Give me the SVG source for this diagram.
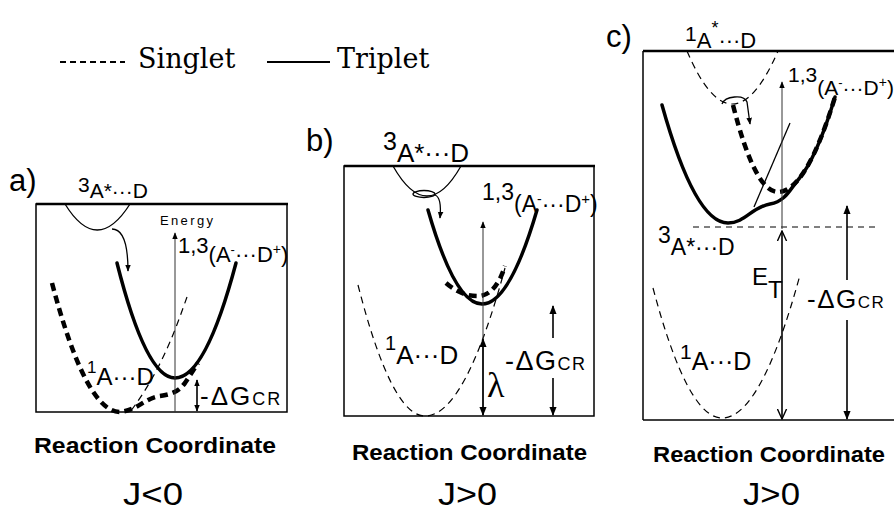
<svg xmlns="http://www.w3.org/2000/svg" width="894" height="513" viewBox="0 0 894 513">
<defs>
<marker id="ah" viewBox="0 0 10 10" refX="9" refY="5" markerWidth="9" markerHeight="9" markerUnits="userSpaceOnUse" orient="auto-start-reverse">
<path d="M0,1 L10,5 L0,9 z" fill="#000"/>
</marker>
<marker id="ahs" viewBox="0 0 10 10" refX="9" refY="5" markerWidth="7" markerHeight="7" markerUnits="userSpaceOnUse" orient="auto-start-reverse">
<path d="M0,1 L10,5 L0,9 z" fill="#000"/>
</marker>
<marker id="av" viewBox="0 0 12 12" refX="11" refY="6" markerWidth="11" markerHeight="11" markerUnits="userSpaceOnUse" orient="auto-start-reverse">
<path d="M0,1 L11,6 L0,11" fill="none" stroke="#000" stroke-width="1.5"/>
</marker>
</defs>
<style>
.box{fill:none;stroke:#000;stroke-width:1.5}
.top{fill:none;stroke:#000;stroke-width:2.5}
.tri{fill:none;stroke:#000;stroke-width:3.5;stroke-linecap:round;stroke-linejoin:round}
.sgl{fill:none;stroke:#000;stroke-width:4.5;stroke-dasharray:8 5}
.thin{fill:none;stroke:#000;stroke-width:1.3}
.thd{fill:none;stroke:#000;stroke-width:1.2;stroke-dasharray:7 5}
.arr{fill:none;stroke:#000;stroke-width:1.6}
.ax{fill:none;stroke:#333;stroke-width:1}
.t{font-family:"Liberation Sans",Arial,sans-serif;fill:#000}
.rc{font-family:"Liberation Sans",Arial,sans-serif;font-weight:bold;font-size:22px;fill:#000}
.j{font-family:"Liberation Sans",Arial,sans-serif;font-size:31px;fill:#000}
.pl{font-family:"Liberation Sans",Arial,sans-serif;font-size:31px;fill:#000}
.leg{font-family:"DejaVu Serif","Liberation Serif",serif;font-size:27px;fill:#000}
</style>

<g id="legend">
<line x1="60" y1="62" x2="125" y2="62" stroke="#000" stroke-width="2" stroke-dasharray="6 4"/>
<text class="leg" x="138" y="68">Singlet</text>
<line x1="267" y1="62" x2="330" y2="62" stroke="#000" stroke-width="2"/>
<text class="leg" x="337" y="68">Triplet</text>
</g>

<g id="panel-a">
<text class="pl" x="9" y="191">a)</text>
<rect class="box" x="36" y="204" width="251" height="208"/>
<line class="top" x1="36" y1="204" x2="288" y2="204"/>
<g id="a-curves">
<path class="thin" d="M65,204 Q97,256 130,204"/>
<path class="tri" d="M117,263 Q146,378 175,378 Q205.5,378 236,263"/>
<path class="sgl" d="M52,283 Q86,412 120,412 C138,410 145,398 160,396 C172,394 178,392 185,383 L198,363"/>
<path class="thd" d="M187,297 C177,325 162,370 130,412"/>
</g>
<g id="a-connectors">
<path class="thin" d="M112,229 C124,229 128,245 128,271" marker-end="url(#ahs)"/>
<line class="ax" x1="175" y1="412" x2="175" y2="233" marker-end="url(#ahs)"/>
<line class="arr" x1="197" y1="380" x2="197" y2="411" marker-start="url(#ahs)" marker-end="url(#ahs)"/>
</g>
<text class="t" x="78" y="192" font-size="21">3<tspan dy="6" font-size="21">A*···D</tspan></text>
<text class="t" x="160" y="225" font-size="13" textLength="53">Energy</text>
<text class="t" x="178" y="253" font-size="22">1,3<tspan dy="9">(A</tspan><tspan dy="-8" font-size="13">-</tspan><tspan dy="8">···D</tspan><tspan dy="-8" font-size="14">+</tspan><tspan dy="8">)</tspan></text>
<text class="t" x="87" y="373" font-size="17">1<tspan dy="12" font-size="24">A···D</tspan></text>
<text class="t" x="200" y="405" font-size="26" letter-spacing="2">-ΔG<tspan font-size="18">CR</tspan></text>
<text class="rc" x="34" y="453" textLength="242" lengthAdjust="spacingAndGlyphs">Reaction Coordinate</text>
<text class="j" x="123" y="505" textLength="60" lengthAdjust="spacingAndGlyphs">J&lt;0</text>
</g>

<g id="panel-b">
<text class="pl" x="306" y="151">b)</text>
<rect class="box" x="344" y="166" width="250" height="250"/>
<line class="top" x1="344" y1="166" x2="595" y2="166"/>
<g id="b-curves">
<path class="thin" d="M393,166 Q427,226 461,166"/>
<ellipse class="thin" cx="424" cy="194" rx="11" ry="3.5"/>
<path class="tri" d="M428,210 Q455,304 482,304 Q509.5,304 537,210"/>
<path class="sgl" stroke-width="3.5" d="M446,283 Q462,297 480,296 Q496,294 505,266"/>
<path class="thd" d="M358,285 Q391.5,416 425,416 Q465,416 505,268"/>
</g>
<g id="b-connectors">
<path class="thin" d="M435,195 C441,197 441,207 440,218" marker-end="url(#ahs)"/>
<line class="ax" x1="483" y1="416" x2="483" y2="222" marker-end="url(#ahs)"/>
<line class="arr" x1="483" y1="339" x2="483" y2="415" marker-start="url(#ah)" marker-end="url(#ah)"/>
<line class="arr" x1="553" y1="338" x2="553" y2="306" marker-end="url(#ah)"/>
<line class="arr" x1="553" y1="378" x2="553" y2="415" marker-end="url(#ah)"/>
</g>
<text class="t" x="383" y="150" font-size="25">3<tspan dy="12" font-size="26">A*···D</tspan></text>
<text class="t" x="482" y="200" font-size="23">1,3<tspan dy="12">(A</tspan><tspan dy="-8" font-size="14">-</tspan><tspan dy="8">···D</tspan><tspan dy="-8" font-size="15">+</tspan><tspan dy="8">)</tspan></text>
<text class="t" x="385" y="350" font-size="20">1<tspan dy="14" font-size="26">A···D</tspan></text>
<text x="487" y="397" font-family="Liberation Serif,serif" font-size="36">λ</text>
<text class="t" x="505" y="370" font-size="27" letter-spacing="1.5">-ΔG<tspan font-size="18">CR</tspan></text>
<text class="rc" x="352" y="460" textLength="235" lengthAdjust="spacingAndGlyphs">Reaction Coordinate</text>
<text class="j" x="438" y="505" textLength="59" lengthAdjust="spacingAndGlyphs">J&gt;0</text>
</g>

<g id="panel-c">
<text class="pl" x="606" y="47">c)</text>
<line class="top" x1="643" y1="51" x2="894" y2="51"/>
<line class="box" x1="643" y1="51" x2="643" y2="420"/>
<line class="box" x1="643" y1="420" x2="894" y2="420"/>
<g id="c-curves">
<path class="thd" d="M687,51 Q732,157 778,51"/>
<path class="sgl" d="M733,105 Q755,192 778,192 Q806,192 835,97"/>
<path class="tri" d="M662,105 Q695,223 728,223 C745,223 752,207 770,204 C786,201 790,189 798,180 Q816.5,158.7 835,97"/>
<path class="thin" d="M754,207 L790,123"/>
<path class="thd" d="M653,288 Q687.5,418 722,418 Q761,418 800,275"/>
<line x1="693" y1="227" x2="877" y2="227" stroke="#000" stroke-width="1" stroke-dasharray="6 5"/>
</g>
<g id="c-connectors">
<path class="thin" d="M722,104 C725,96 744,94 747,102 L750,124" marker-end="url(#ahs)"/>
<line class="ax" x1="782" y1="229" x2="782" y2="82" marker-end="url(#ahs)"/>
<line class="arr" x1="782" y1="231" x2="782" y2="419" marker-start="url(#av)" marker-end="url(#av)"/>
<line class="arr" x1="847" y1="280" x2="847" y2="206" marker-end="url(#ah)"/>
<line class="arr" x1="847" y1="320" x2="847" y2="419" marker-end="url(#ah)"/>
</g>
<text class="t" x="685" y="41" font-size="21">1<tspan dy="7" font-size="22">A</tspan><tspan dy="-14" font-size="18">*</tspan><tspan dy="14" font-size="22">···D</tspan></text>
<text class="t" x="788" y="82" font-size="21">1,3<tspan dy="13">(A</tspan><tspan dy="-8" font-size="13">-</tspan><tspan dy="8">···D</tspan><tspan dy="-8" font-size="14">+</tspan><tspan dy="8">)</tspan></text>
<text class="t" x="658" y="243" font-size="23">3<tspan dy="12" font-size="23">A*···D</tspan></text>
<text class="t" x="752" y="285" font-size="24">E<tspan dy="13">T</tspan></text>
<text class="t" x="680" y="359" font-size="21">1<tspan dy="11" font-size="25">A···D</tspan></text>
<text class="t" x="807" y="308" font-size="26" letter-spacing="1.5">-ΔG<tspan font-size="17">CR</tspan></text>
<text class="rc" x="653" y="462" textLength="232" lengthAdjust="spacingAndGlyphs">Reaction Coordinate</text>
<text class="j" x="743" y="505" textLength="57" lengthAdjust="spacingAndGlyphs">J&gt;0</text>
</g>
</svg>
